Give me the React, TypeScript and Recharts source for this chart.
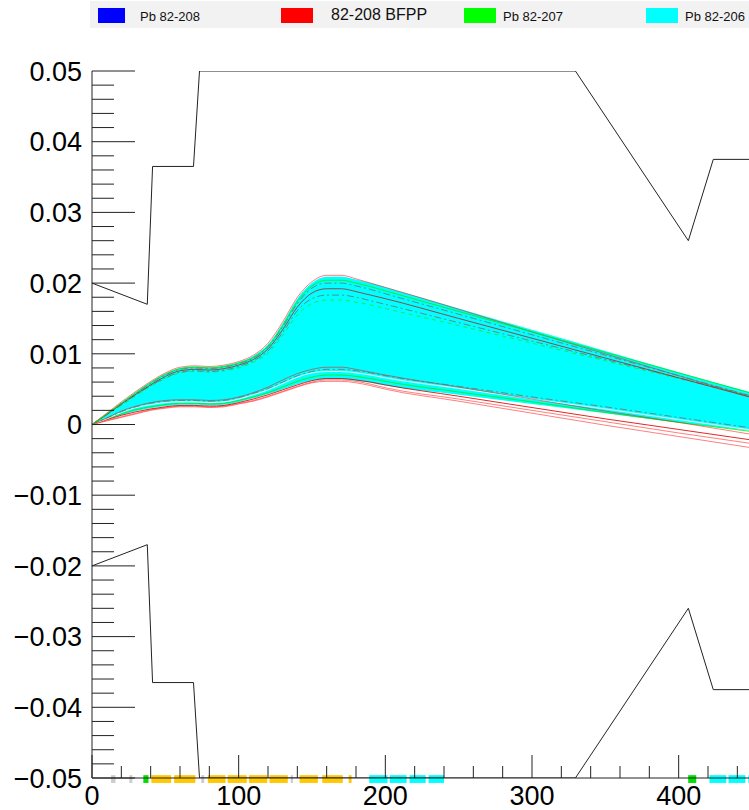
import React from "react"
import { ComposedChart, Line, Area, XAxis, YAxis, ReferenceArea } from "recharts"

// position along the line (x axis) and the trajectory offsets, in units of 0.001
const positions = [0, 10, 20, 30, 40, 50, 60, 70, 80, 90, 100, 110, 120, 130, 140, 150, 160, 170, 180, 190, 200, 250, 300, 350, 400, 450]

const cyanHigh = [0, 1.5, 3.1, 4.6, 6.0, 7.2, 8.0, 8.2, 8.1, 8.3, 8.8, 9.7, 11.3, 14.3, 17.8, 20.0, 20.9, 20.9, 20.5, 20.0, 19.4, 16.4, 13.4, 10.4, 7.4, 4.5]
const cyanLow = [0, 0.7, 1.3, 1.9, 2.3, 2.6, 2.8, 2.8, 2.7, 2.8, 3.2, 3.7, 4.3, 5.0, 5.7, 6.2, 6.4, 6.4, 6.2, 5.9, 5.5, 4.2, 2.9, 1.6, 0.3, -0.9]

const redTop = [0, 1.6, 3.2, 4.7, 6.1, 7.3, 8.1, 8.3, 8.2, 8.4, 8.9, 9.8, 11.5, 14.5, 18.0, 20.2, 21.1, 21.1, 20.6, 20.0, 19.4, 16.3, 13.1, 10.0, 6.9, 3.8]
const greenTop = [0, 1.5, 3.0, 4.5, 5.9, 7.1, 7.9, 8.1, 8.0, 8.2, 8.7, 9.5, 11.1, 14.0, 17.4, 19.6, 20.4, 20.4, 20.0, 19.5, 18.9, 16.0, 13.1, 10.2, 7.3, 4.4]
const grayTop = [0, 1.5, 3.0, 4.4, 5.8, 7.0, 7.8, 8.0, 7.9, 8.1, 8.6, 9.4, 11.0, 13.8, 17.1, 19.3, 20.0, 20.0, 19.6, 19.1, 18.5, 15.6, 12.7, 9.8, 6.9, 4.0]
const darkRedTop = [0, 1.4, 2.9, 4.3, 5.6, 6.8, 7.6, 7.8, 7.7, 7.9, 8.4, 9.2, 10.7, 13.4, 16.6, 18.6, 19.2, 19.2, 18.8, 18.3, 17.8, 15.0, 12.2, 9.4, 6.6, 3.8]
const grayMid = [0, 1.4, 2.8, 4.2, 5.5, 6.6, 7.4, 7.6, 7.5, 7.7, 8.2, 9.0, 10.4, 13.0, 16.1, 17.8, 18.3, 18.3, 18.0, 17.5, 17.0, 14.4, 11.8, 9.2, 6.6, 4.0]
const greenMid = [0, 1.4, 2.7, 4.1, 5.4, 6.5, 7.3, 7.5, 7.4, 7.6, 8.0, 8.8, 10.1, 12.6, 15.5, 17.1, 17.6, 17.6, 17.3, 16.9, 16.4, 14.0, 11.5, 9.0, 6.5, 4.0]

const redMid = [0, 0.9, 1.9, 2.6, 3.1, 3.4, 3.5, 3.5, 3.4, 3.5, 3.9, 4.5, 5.3, 6.3, 7.2, 7.8, 8.1, 8.1, 7.8, 7.4, 7.0, 5.3, 3.6, 1.9, 0.3, -1.4]
const grayLow = [0, 0.9, 1.8, 2.5, 3.0, 3.3, 3.4, 3.4, 3.3, 3.4, 3.8, 4.4, 5.1, 6.0, 6.9, 7.5, 7.8, 7.8, 7.6, 7.3, 6.9, 5.4, 3.9, 2.5, 1.0, -0.5]
const whiteLow = [0, 0.8, 1.7, 2.4, 2.8, 3.1, 3.2, 3.2, 3.1, 3.2, 3.6, 4.2, 4.9, 5.8, 6.7, 7.3, 7.5, 7.5, 7.3, 7.0, 6.6, 5.1, 3.6, 2.2, 0.7, -0.8]
const greenLow = [0, 0.8, 1.5, 2.1, 2.5, 2.8, 3.0, 3.0, 2.9, 3.0, 3.4, 3.9, 4.5, 5.3, 6.1, 6.7, 7.0, 7.0, 6.8, 6.5, 6.1, 4.6, 3.2, 1.7, 0.3, -1.0]
const redLow3 = [0, 0.7, 1.3, 1.8, 2.2, 2.5, 2.7, 2.7, 2.6, 2.7, 3.1, 3.6, 4.2, 4.9, 5.6, 6.2, 6.5, 6.5, 6.3, 6.0, 5.6, 4.0, 2.4, 0.8, -0.7, -2.2]
const redLow2 = [0, 0.6, 1.1, 1.6, 2.1, 2.4, 2.6, 2.6, 2.5, 2.6, 3.0, 3.4, 4.0, 4.7, 5.4, 6.0, 6.3, 6.3, 6.1, 5.7, 5.2, 3.6, 2.0, 0.4, -1.2, -2.7]
const redLow1 = [0, 0.5, 1.0, 1.5, 2.0, 2.3, 2.5, 2.5, 2.4, 2.5, 2.9, 3.3, 3.9, 4.6, 5.3, 5.9, 6.1, 6.1, 5.9, 5.5, 5.0, 3.3, 1.6, -0.1, -1.7, -3.3]

// aperture limits (black)
const upperEnvX = [0, 37.7, 41.3, 69.2, 73.3, 329.6, 406.6, 423.6, 450]
const upperEnvY = [20, 17, 36.5, 36.5, 50, 50, 26, 37.5, 37.5]
const lowerEnvX = [0, 37.7, 41.3, 69.2, 73.3, 329.6, 406.6, 423.6, 450]
const lowerEnvY = [-20, -17, -36.5, -36.5, -50, -50, -26, -37.5, -37.5]

// element strip along the axis
const stripStart = [13, 25.5, 35, 40.5, 56, 74.5, 79, 92.5, 107, 121, 135.5, 141.5, 157, 175, 189, 203, 216.5, 229.5, 406.5, 421, 434, 447.5]
const stripEnd = [16, 27.5, 38.5, 54, 70.5, 76.5, 91, 105.5, 119.5, 133.5, 137, 154, 171, 177, 201.5, 214.5, 227.5, 240, 412, 432.5, 445.5, 459]
const stripColor = ["#cccccc", "#cccccc", "#00e000", "#ffc800", "#ffc800", "#cccccc", "#ffc800", "#ffc800", "#ffc800", "#ffc800", "#cccccc", "#ffc800", "#ffc800", "#ffc800", "#00ffff", "#00ffff", "#00ffff", "#00ffff", "#00e000", "#00ffff", "#00ffff", "#00ffff"]

const xMajor = [0, 100, 200, 300, 400]
const xLabels = ["0", "100", "200", "300", "400"]
const yMajor = [-50, -40, -30, -20, -10, 0, 10, 20, 30, 40, 50]
const yLabels = ["\u22120.05", "\u22120.04", "\u22120.03", "\u22120.02", "\u22120.01", "0", "0.01", "0.02", "0.03", "0.04", "0.05"]

const legendNames = ["Pb 82-208", "82-208 BFPP", "Pb 82-207", "Pb 82-206"]
const legendColors = ["#0000ff", "#ff0000", "#00ff00", "#00ffff"]

const FONT = "'Liberation Sans', Arial, sans-serif"

const xTicks: number[] = []
for (let v = 0; v <= 440; v += 20) xTicks.push(v)
const yTicks: number[] = []
for (let v = -50; v <= 50; v += 2) yTicks.push(v)

const rows = positions.map((x, i) => ({
  x,
  band: [cyanLow[i], cyanHigh[i]],
  redTop: redTop[i],
  greenTop: greenTop[i],
  grayTop: grayTop[i],
  darkRedTop: darkRedTop[i],
  grayMid: grayMid[i],
  greenMid: greenMid[i],
  redMid: redMid[i],
  grayLow: grayLow[i],
  whiteLow: whiteLow[i],
  greenLow: greenLow[i],
  redLow3: redLow3[i],
  redLow2: redLow2[i],
  redLow1: redLow1[i],
}))

const upperEnv = upperEnvX.map((x, i) => ({ x, y: upperEnvY[i] }))
const lowerEnv = lowerEnvX.map((x, i) => ({ x, y: lowerEnvY[i] }))

// lines drawn under the cyan band, then lines that stay visible on top of it
const underTraces = [
  { key: "redLow1", color: "#ff0000", opacity: 0.5, dash: undefined },
  { key: "redLow2", color: "#ff0000", opacity: 0.5, dash: undefined },
  { key: "redLow3", color: "#e00000", opacity: 0.85, dash: undefined },
  { key: "redTop", color: "#ff0000", opacity: 0.5, dash: undefined },
]
const overTraces = [
  { key: "greenLow", color: "#00ee00", opacity: 0.8, dash: undefined },
  { key: "whiteLow", color: "#ffffff", opacity: 0.9, dash: undefined },
  { key: "redMid", color: "#ff0000", opacity: 0.5, dash: undefined },
  { key: "grayLow", color: "#707070", opacity: 0.8, dash: "7 3 2 3" },
  { key: "greenMid", color: "#00ee00", opacity: 0.7, dash: "4 4" },
  { key: "grayMid", color: "#707070", opacity: 0.8, dash: "7 3 2 3" },
  { key: "darkRedTop", color: "#b02020", opacity: 0.8, dash: undefined },
  { key: "grayTop", color: "#707070", opacity: 0.8, dash: "7 3 2 3" },
  { key: "greenTop", color: "#00ee00", opacity: 0.8, dash: undefined },
]

function XTick(props: any) {
  const { x, y, payload } = props
  const i = xMajor.indexOf(payload.value)
  const axisY = y - 8
  return (
    <g>
      <line x1={x} x2={x} y1={axisY} y2={axisY - (i >= 0 ? 23 : 12)} stroke="#222" />
      {i >= 0 && (
        <text x={x} y={y} dy="0.71em" textAnchor="middle" fontSize={27} fontFamily={FONT} fill="#000">
          {xLabels[i]}
        </text>
      )}
    </g>
  )
}

function YTick(props: any) {
  const { x, y, payload } = props
  const i = yMajor.indexOf(payload.value)
  const axisX = x + 10
  return (
    <g>
      <line x1={axisX} x2={axisX + (i >= 0 ? 43 : 22)} y1={y} y2={y} stroke="#222" />
      {i >= 0 && (
        <text x={x} y={y} dy="0.36em" textAnchor="end" fontSize={27} fontFamily={FONT} fill="#000">
          {yLabels[i]}
        </text>
      )}
    </g>
  )
}

function TopLegend() {
  const boxX = [98, 281, 464, 646]
  const textX = [140, 331, 503, 685]
  return (
    <div style={{ position: "absolute", left: 90, top: 1, width: 659, height: 27, background: "#f2f2f2" }}>
      {legendNames.map((name, i) => (
        <React.Fragment key={name}>
          <div
            style={{
              position: "absolute",
              left: boxX[i] - 90,
              top: 7,
              width: i === 0 ? 27 : 32,
              height: 15,
              background: legendColors[i],
            }}
          />
          <div
            style={{
              position: "absolute",
              left: textX[i] - 90,
              top: i === 1 ? 5 : 7,
              fontFamily: FONT,
              fontSize: i === 1 ? 16 : 13,
              lineHeight: "17px",
              color: "#111",
              whiteSpace: "nowrap",
            }}
          >
            {name}
          </div>
        </React.Fragment>
      ))}
    </div>
  )
}

export default function App() {
  return (
    <div style={{ position: "absolute", left: 0, top: 0, width: 749, height: 810, overflow: "hidden", background: "#fff" }}>
      <TopLegend />
      <ComposedChart width={752} height={810} data={rows} margin={{ top: 71, right: 0, bottom: 0, left: 0 }}>
        <XAxis
          xAxisId="top"
          orientation="top"
          dataKey="x"
          type="number"
          domain={[0, 450]}
          height={0}
          tick={false}
          tickLine={false}
          axisLine={{ stroke: "#222" }}
        />
        <XAxis
          dataKey="x"
          type="number"
          domain={[0, 450]}
          allowDataOverflow
          ticks={xTicks}
          interval={0}
          tickSize={0}
          tickMargin={8}
          height={32}
          tick={<XTick />}
          axisLine={{ stroke: "#222" }}
        />
        <YAxis
          type="number"
          domain={[-50, 50]}
          allowDataOverflow
          ticks={yTicks}
          interval={0}
          tickSize={0}
          tickMargin={10}
          width={92}
          tick={<YTick />}
          axisLine={{ stroke: "#222" }}
        />
        {underTraces.map((t) => (
          <Line
            key={t.key}
            dataKey={t.key}
            type="monotone"
            stroke={t.color}
            strokeOpacity={t.opacity}
            strokeWidth={1}
            strokeDasharray={t.dash}
            dot={false}
            activeDot={false}
            isAnimationActive={false}
          />
        ))}
        <Area
          dataKey="band"
          type="monotone"
          fill="#00ffff"
          fillOpacity={1}
          stroke="none"
          isAnimationActive={false}
          dot={false}
          activeDot={false}
        />
        {overTraces.map((t) => (
          <Line
            key={t.key}
            dataKey={t.key}
            type="monotone"
            stroke={t.color}
            strokeOpacity={t.opacity}
            strokeWidth={1}
            strokeDasharray={t.dash}
            dot={false}
            activeDot={false}
            isAnimationActive={false}
          />
        ))}
        <Line data={upperEnv} dataKey="y" type="linear" stroke="#222" strokeWidth={1} dot={false} activeDot={false} isAnimationActive={false} />
        <Line data={lowerEnv} dataKey="y" type="linear" stroke="#222" strokeWidth={1} dot={false} activeDot={false} isAnimationActive={false} />
        {stripStart.map((s, i) => (
          <ReferenceArea
            key={i}
            x1={s}
            x2={stripEnd[i]}
            y1={-50.7}
            y2={-49.6}
            fill={stripColor[i]}
            fillOpacity={1}
            stroke="none"
            ifOverflow="visible"
          />
        ))}
      </ComposedChart>
    </div>
  )
}
